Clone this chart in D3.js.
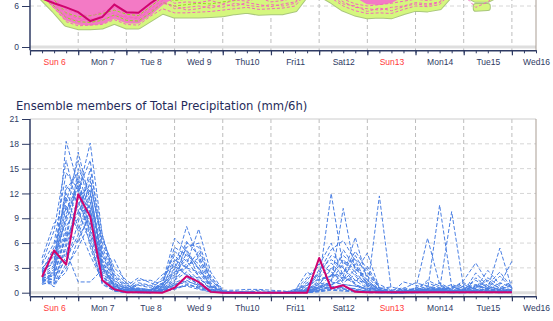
<!DOCTYPE html>
<html>
<head>
<meta charset="utf-8">
<title>Ensemble members of Total Precipitation</title>
<script src="https://d3js.org/d3.v7.min.js"></script>
<style>
    body { margin: 0; background: #fff; }
    svg { display: block; font-family: 'DejaVu Sans', sans-serif; }
    .tick text { fill: #2e3a63; font-size: 8.5px; }
</style>
</head>
<body>
<svg id="chart" width="553" height="321"></svg>
<script>
// ---- data ---------------------------------------------------------------
var dayLabels = ['Sun 6', 'Mon 7', 'Tue 8', 'Wed 9', 'Thu10', 'Fri11', 'Sat12', 'Sun13', 'Mon14', 'Tue15', 'Wed16'];
var sundays = ['Sun 6', 'Sun13'];
var firstHour = 6;     // first value is Sun 6 06:00
var stepHours = 6;
var precipTicks = [0, 3, 6, 9, 12, 15, 18, 21];
var plumeTicks = [0, 6];

// control run, total precipitation mm/6h
var control = [1.9, 5.1, 3.4, 11.9, 9.2, 1.5, 0.4, 0.05, 0.05, 0.02, 0, 0.6, 2.0, 1.3, 0.1,
    0, 0, 0, 0, 0, 0, 0, 0, 4.2, 0.5, 0.9, 0.1,
    0.05, 0.05, 0.05, 0.05, 0.05, 0.05, 0.05, 0.05, 0.05, 0.05, 0.05, 0.05, 0.05];

// ensemble members, total precipitation mm/6h
var members = [
    [2.0,3.1,6.5,9.8,12.5,3.2,0.8,0.3,0.2, 0.1,0.5,2.5,4.0,3.0,0.8,0.1, 0,0,0,0,0, 0,0.3,1.5,12.0,3.0,1.0,0.3,0.1,0, 0.1,0.2,0.5,0.3,0.2,0.5,1.0,0.5,0.3,0.2],
    [1.6,2.4,18.3,13.0,8.0,2.0,0.4,0.1,0, 0,0.2,1.0,1.5,0.8,0.2,0, 0,0,0,0,0, 0,0.1,0.5,1.2,10.2,2.5,0.8,0.2,0, 0,0.1,0.2,0.1,0,0.1,0.2,0.1,0,0.1],
    [2.5,4.0,9.0,17.0,11.0,4.5,1.2,0.4,0.3, 0.2,1.2,6.6,5.0,2.0,0.4,0, 0,0,0,0,0, 0.2,1.5,3.3,6.0,2.0,6.7,1.5,0.3,0.1, 0.2,0.4,6.6,1.0,0.3,0.2,0.6,1.5,0.5,0.8],
    [1.2,1.0,4.5,12.0,18.1,7.0,1.5,0.6,0.2, 0.3,0.8,3.0,8.0,4.0,1.0,0.1, 0,0,0,0,0, 0,0.2,0.8,0.5,1.0,0.8,0.3,11.7,0.2, 0.1,0.2,0.3,10.6,0.8,0.2,0.1,0.3,0.2,0.1],
    [3.0,4.4,12.5,14.5,9.5,1.8,0.3,0.1,0.1, 0,0.3,1.5,2.5,1.2,0.3,0, 0,0,0,0,0, 0.1,0.8,2.5,5.2,6.3,3.9,1.0,0.2,0, 0,0.1,0.2,0.4,9.8,0.6,0.3,0.2,0.1,0.2],
    [1.8,0.7,3.5,8.5,13.5,5.5,2.0,0.8,1.8, 1.2,0.6,2.0,3.5,7.7,2.5,0.3, 0.3,0.4,0.4,0.3,0.2, 0,0,0.3,0.8,0.5,0.3,0.1,0,0, 1.3,0.9,0.5,0.2,0.1,0.3,0.8,0.4,0.2,0.1],
    [2.2,2.0,7.5,6.0,10.0,3.5,0.6,0.2,0.5, 0.2,1.8,4.5,3.0,1.5,0.2,0, 0,0,0,0,0, 0.3,2.5,1.5,2.0,4.0,2.5,4.8,0.5,0.7, 0.3,0.2,1.5,0.8,0.4,1.5,3.6,1.2,0.6,1.3],
    [1.5,1.6,5.0,1.3,1.3,2.8,4.0,1.0,0.2, 0,0.4,1.2,6.0,5.5,1.5,0.2, 0,0,0,0,0, 0,0.4,1.0,3.0,1.5,4.5,2.0,0.3,0, 0,0,0.1,0.2,0.1,0,0.2,0.5,5.4,0.5],
    [4.2,8.4,10.0,13.0,6.5,1.0,0.2,0,0, 0,0.1,0.5,1.0,0.6,0.1,0, 0,0,0,0,0, 0,0.1,0.2,0.4,0.3,0.2,0,0,0, 0,0,0,0.1,0,0.1,0,0.1,0,0],
    [2.8,3.5,13.0,11.0,7.5,2.5,0.5,0.2,0.3, 0.4,0.9,3.5,2.0,1.0,0.3,0, 0,0,0,0,0, 0.2,1.0,2.0,1.5,5.2,3.0,1.2,0.4,0.1, 0.5,1.2,0.8,0.3,0.2,0.1,2.4,0.8,0.4,0.2],
    [1.0,1.4,6.0,15.0,12.0,3.8,1.0,0.5,1.5, 1.5,1.0,5.5,4.5,3.5,0.8,0.1, 0.1,0.2,0.1,0,0, 0,0.2,0.6,2.2,1.8,1.2,3.2,0.6,0.2, 0.1,0.3,0.4,0.6,0.3,0.8,0.5,2.7,1.0,3.8],
    [2.6,5.5,11.5,8.0,4.5,1.5,0.3,0.1,0, 0,0.2,0.8,2.0,1.8,0.4,0, 0,0,0,0,0, 0.1,0.5,1.2,0.8,2.5,3.5,0.8,0.1,0, 0,0.1,0.1,0.2,0.1,0,0.1,0.2,0.1,0],
    [1.9,2.8,8.0,10.5,14.0,6.0,2.5,1.2,0.4, 0.3,0.7,2.2,5.5,6.0,2.0,0.2, 0,0,0,0,0, 0,0.3,2.8,4.0,3.0,1.5,0.5,0.2,0, 0.2,0.5,1.2,0.6,0.2,0.4,1.5,0.6,2.0,0.5],
    [3.4,6.0,14.5,12.5,5.5,1.2,0.2,0,0.1, 0.1,0.3,1.0,1.2,0.5,0.1,0, 0,0,0,0,0, 0,0,0.2,0.5,0.8,0.4,0.2,0,0, 0,0,0.1,0.1,0,0,0.1,0,0.1,0],
    [1.3,1.8,4.0,7.0,11.0,4.0,0.9,0.3,0.9, 0.6,1.5,4.0,3.0,2.5,0.6,0.1, 0,0.1,0.3,0.1,0, 0.4,1.8,3.5,2.5,1.2,2.2,1.0,0.3,0.1, 0.4,0.3,0.2,0.4,0.6,1.2,0.5,1.8,0.8,0.3],
    [2.1,2.5,9.5,12.5,16.0,5.0,1.8,0.7,0.3, 0.2,0.4,1.8,4.8,3.0,0.9,0.1, 0,0,0,0,0, 0,0.2,0.5,1.5,3.5,4.0,2.5,0.5,0.2, 0,0.2,0.4,0.2,0.1,0.2,0.3,0.2,0.4,0.2],
    [1.7,1.2,3.0,5.5,8.5,3.0,0.7,0.3,0.1, 0,0.2,0.6,0.8,0.4,0.1,0, 0,0,0,0,0, 0,0.1,0.4,0.6,0.4,0.3,0.1,0,0, 0,0,0,0.1,0,0,0,0.1,0,0],
    [2.4,3.8,12.0,9.5,10.5,2.2,0.5,0.4,1.0, 0.8,2.2,3.2,2.2,1.2,0.2,0, 0,0,0,0,0, 0.1,0.6,1.8,3.6,2.0,1.0,0.4,0.2,0, 0.1,0.6,0.3,0.2,0.8,0.3,0.9,0.4,0.3,1.0],
    [1.4,2.2,7.0,13.5,9.0,2.8,0.6,0.2,0.6, 0.3,0.6,2.8,6.2,4.5,1.2,0.1, 0.2,0.1,0,0.1,0.2, 0,0.3,0.8,1.0,1.5,2.8,2.0,1.0,0.3, 0.6,0.3,0.5,1.2,0.4,0.2,0.6,1.0,2.5,0.6],
    [3.6,7.5,16.0,10.0,6.0,1.4,0.3,0.1,0, 0,0.1,0.4,0.9,0.7,0.2,0, 0,0,0,0,0, 0,0,0.1,0.3,0.2,0.1,0,0,0, 0,0,0.1,0,0,0,0.1,0,0,0.1],
    [2.0,1.5,5.5,11.5,13.0,6.5,3.0,1.5,0.5, 0.4,1.1,5.0,3.8,2.0,0.5,0, 0,0,0,0,0, 0.2,1.2,2.2,4.5,3.8,2.0,0.6,0.2,0.1, 0.2,0.4,0.2,0.3,0.5,1.0,0.4,0.3,0.2,0.4],
    [1.1,2.6,10.5,7.5,12.0,4.8,1.4,0.5,0.2, 0.1,0.5,1.5,3.2,4.2,1.8,0.2, 0,0,0,0,0, 0,0.2,0.6,0.9,1.8,1.5,1.2,0.4,0, 0,0.1,0.3,0.5,0.2,0.1,0.3,0.8,0.3,0.2],
    [2.9,4.8,8.5,14.0,7.0,2.0,0.4,0.2,1.2, 0.9,0.3,1.2,1.8,1.0,0.3,0, 0,0,0,0,0, 0.1,0.4,1.0,2.8,4.5,3.2,1.5,0.3,0, 0.3,0.2,0.6,0.4,1.0,0.5,0.2,0.4,1.2,0.6],
    [1.6,1.1,2.5,6.5,9.5,3.4,0.8,0.3,0.2, 0.2,0.8,3.8,5.2,2.8,0.7,0.1, 0,0,0,0,0, 0,0.1,0.3,0.7,0.6,0.5,0.2,0.1,0, 0,0.1,0,0.1,0.1,0.2,0.1,0,0.1,0.1],
    [2.3,3.3,11.0,16.0,10.0,3.0,1.0,0.6,0.4, 0.1,0.3,0.9,1.4,0.9,0.2,0, 0,0,0,0,0, 0.3,0.9,1.6,2.0,2.4,5.0,2.8,0.6,0.2, 0.1,0.3,0.8,0.5,0.3,0.2,1.8,0.6,0.5,0.3],
    [1.8,2.0,6.8,9.0,15.0,7.0,2.2,0.9,0.3, 0.3,1.0,2.5,3.0,5.0,1.6,0.2, 0,0,0,0,0, 0,0.3,0.7,1.3,1.0,0.8,0.5,0.2,0.1, 0.2,0.1,0.2,0.3,0.2,0.4,0.2,0.5,0.3,0.2]
];

// upper chart (cut off at the top of the picture): lower edge of the member spread
var plumeLow = [7.2, 5.4, 3.4, 2.9, 2.9, 3.0, 3.7, 3.0, 3.0, 4.1, 5.2, 4.6, 4.6, 4.6, 4.7, 4.8, 5.1, 5.3, 5.0, 5.1,
    5.1, 5.5, 7.8, 7.8, 6.8, 5.6, 4.9, 4.5, 4.6, 4.5, 5.1, 5.6, 5.5, 5.8, 7.8, 7.8, 6.9, 6.9, 7.8, 7.8];
// small separate patch under Tue15
var plumeIsleLow = [null, null, null, null, null, null, null, null, null, null, null, null, null, null, null, null, null, null, null, null,
    null, null, null, null, null, null, null, null, null, null, null, null, null, null, null, null, 5.6, 5.7, null, null];
var plumeIsleHigh = [null, null, null, null, null, null, null, null, null, null, null, null, null, null, null, null, null, null, null, null,
    null, null, null, null, null, null, null, null, null, null, null, null, null, null, null, null, 6.0, 6.0, null, null];
// lower edge of the dense (pink) core
var plumeCore = [7.6, 5.9, 4.0, 3.4, 3.3, 3.5, 4.3, 3.6, 3.6, 4.8, 6.3, 7.4, null, null, null, null, null, null, null, null,
    null, null, null, null, null, null, 7.4, 6.4, 6.3, 6.6, 7.5, null, null, null, null, null, null, null, null, null];
var plumeControl = [7.1, 6.4, 5.8, 5.1, 3.8, 4.4, 6.2, 5.1, 5.0, 6.4, 7.6, null, null, null, null, null, null, null, null, null,
    null, null, null, null, null, null, null, null, null, null, null, null, null, null, null, null, null, null, null, null];
var plumePink = [
    [7.5, 5.7, 3.7, 3.1, 3.2, 3.3, 4.0, 3.3, 3.2, 4.5, 5.6, 5.0, 5.0, 5.1, 5.2, 5.4, 5.6, 5.8, 5.5, 5.6, 5.7, 6.0, 8.0, 8.0, 7.2, 6.0, 5.3, 4.9, 5.0, 4.9, 5.5, 6.0, 5.9, 6.2, 8.0, 8.0, 7.2, 7.1, 8.0, 8.0],
    [8.0, 6.5, 4.8, 4.2, 3.9, 4.6, 5.0, 4.2, 4.4, 5.6, 6.8, 5.6, 5.8, 6.0, 5.7, 6.2, 6.0, 6.5, 6.2, 5.9, 6.3, 6.6, 8.5, 8.5, 7.8, 6.6, 5.8, 5.6, 5.4, 5.8, 6.0, 6.5, 6.3, 6.6, 8.5, 8.5, 8.0, 7.5, 8.5, 8.5],
    [8.5, 7.0, 5.5, 4.9, 4.5, 5.2, 5.8, 5.0, 5.0, 6.2, 7.5, 6.4, 6.6, 6.5, 6.8, 6.3, 6.9, 6.7, 7.2, 6.6, 6.8, 7.2, 9.0, 9.0, 8.0, 7.0, 6.3, 6.0, 6.2, 6.4, 6.7, 7.0, 6.8, 7.1, 9.0, 9.0, 8.5, 8.0, 9.0, 9.0],
    [8.2, 6.2, 4.4, 3.8, 4.2, 4.0, 4.6, 4.5, 4.1, 5.3, 6.4, 6.0, 5.4, 5.6, 6.1, 5.8, 6.4, 6.1, 5.9, 6.2, 6.0, 6.4, 8.2, 8.2, 7.5, 6.3, 6.0, 5.2, 5.7, 5.3, 5.9, 6.3, 6.1, 6.5, 8.0, 7.6, 5.8, 6.6, 8.0, 8.0]
];
var plumeGreen = [
    [7.6, 6.0, 4.3, 3.7, 3.6, 3.9, 4.7, 3.9, 3.8, 5.0, 6.5, 6.0, 6.2, 6.4, 6.3, 6.6, 6.8, 7.6, null, null,
        null, null, null, null, null, null, null, null, null, null, null, null, null, null, null, null, null, null, null, null],
    [8.0, 6.9, 5.0, 4.4, 4.6, 4.9, 5.4, 4.8, 4.6, 5.9, 7.3, 6.8, 7.0, 7.6, null, null, null, null, null, null,
        null, null, null, null, null, null, null, null, null, null, null, null, null, null, null, null, null, null, null, null]
];

// ---- drawing ------------------------------------------------------------
var navy = '#2e3a63';
var svg = d3.select('#chart');
var hourOf = function(i) { return firstHour + i * stepHours; };

var x = d3.scaleLinear().domain([0, 252]).range([30, 536]);
var left = x.range()[0], right = x.range()[1];

function timeAxis(g, y0) {
    g.append('g')
        .attr('transform', 'translate(0,' + y0 + ')')
        .call(d3.axisBottom(x).tickValues(d3.range(0, 253, stepHours)).tickSize(3).tickSizeOuter(0).tickFormat(''))
        .call(function(a) { a.select('.domain').attr('stroke', navy).attr('stroke-width', 1.5); })
        .selectAll('line').attr('stroke', navy);
    g.append('g')
        .attr('transform', 'translate(0,' + y0 + ')')
        .call(d3.axisBottom(x).tickValues(d3.range(0, 253, 24)).tickSize(5).tickSizeOuter(0).tickFormat(''))
        .call(function(a) { a.select('.domain').remove(); })
        .selectAll('line').attr('stroke', navy).attr('stroke-width', 1.2);
    g.append('g')
        .attr('transform', 'translate(0,' + y0 + ')')
        .call(d3.axisBottom(x).tickValues(dayLabels.map(function(d, i) { return 12 + 24 * i; }))
            .tickSize(0).tickPadding(9).tickFormat(function(d, i) { return dayLabels[i]; }))
        .call(function(a) { a.select('.domain').remove(); })
        .selectAll('text')
        .style('fill', function(d, i) { return sundays.indexOf(dayLabels[i]) >= 0 ? '#ff3838' : navy; });
}

function frame(g, y, top, bottom, hTicks) {
    // dashed grid
    g.append('g').selectAll('line')
        .data(hTicks.filter(function(t) { return t > 0 && y(t) > top + 1; }))
        .join('line')
        .attr('x1', left).attr('x2', right)
        .attr('y1', function(d) { return y(d); }).attr('y2', function(d) { return y(d); })
        .attr('stroke', '#d6d6d6').attr('stroke-dasharray', '4,3');
    g.append('g').selectAll('line')
        .data(d3.range(24, 252, 24))
        .join('line')
        .attr('x1', function(d) { return x(d); }).attr('x2', function(d) { return x(d); })
        .attr('y1', top).attr('y2', bottom)
        .attr('stroke', '#bdbdbd').attr('stroke-dasharray', '4,3');
    // zero line
    g.append('line')
        .attr('x1', left).attr('x2', right).attr('y1', y(0)).attr('y2', y(0))
        .attr('stroke', '#dedede').attr('stroke-width', 3);
}

function borders(g, y, top, bottom, hTicks) {
    g.append('line').attr('x1', left).attr('x2', right).attr('y1', top).attr('y2', top).attr('stroke', '#cccccc');
    g.append('line').attr('x1', right).attr('x2', right).attr('y1', top).attr('y2', bottom).attr('stroke', '#a99d93');
    g.append('g')
        .attr('transform', 'translate(' + left + ',0)')
        .call(d3.axisLeft(y).tickValues(hTicks).tickSize(8).tickPadding(3).tickFormat(d3.format('d')))
        .call(function(a) { a.select('.domain').remove(); })
        .selectAll('line').attr('stroke', navy);
    g.append('line').attr('x1', left).attr('x2', left).attr('y1', top).attr('y2', bottom)
        .attr('stroke', navy).attr('stroke-width', 1.5);
}

// ---- upper chart (plume, only its bottom is in view) --------------------
var topAxisY = 50.3;
var yT = d3.scaleLinear().domain([0, 6]).range([47, 6]);
var gT = svg.append('g');
svg.append('clipPath').attr('id', 'clipT').append('rect')
    .attr('x', left).attr('y', -100).attr('width', right - left).attr('height', topAxisY + 100);
frame(gT, yT, -10, topAxisY, plumeTicks);

var plotT = gT.append('g').attr('clip-path', 'url(#clipT)');
var areaLow = d3.area()
    .defined(function(d) { return d != null; })
    .x(function(d, i) { return x(hourOf(i)); })
    .y0(function(d) { return yT(d); })
    .y1(function() { return -60; });
plotT.append('path').datum(plumeLow).attr('d', areaLow)
    .attr('fill', '#d5f77f').attr('stroke', '#a9c67c').attr('stroke-width', 6).attr('stroke-linejoin', 'round');
plotT.append('path').datum(plumeLow).attr('d', areaLow)
    .attr('fill', '#d5f77f').attr('stroke', '#d5f77f').attr('stroke-width', 4).attr('stroke-linejoin', 'round');

var isle = plumeIsleLow.map(function(d, i) { return d == null ? null : [d, plumeIsleHigh[i]]; });
var areaIsle = d3.area()
    .defined(function(d) { return d != null; })
    .x(function(d, i) { return x(hourOf(i)); })
    .y0(function(d) { return yT(d[0]); })
    .y1(function(d) { return yT(d[1]); });
plotT.append('path').datum(isle).attr('d', areaIsle)
    .attr('fill', '#d5f77f').attr('stroke', '#a9c67c').attr('stroke-width', 6).attr('stroke-linejoin', 'round');
plotT.append('path').datum(isle).attr('d', areaIsle)
    .attr('fill', '#d5f77f').attr('stroke', '#d5f77f').attr('stroke-width', 4).attr('stroke-linejoin', 'round');

plotT.append('path').datum(plumeCore).attr('d', areaLow)
    .attr('fill', '#f37ac5').attr('stroke', '#f37ac5').attr('stroke-width', 2).attr('stroke-linejoin', 'round');

var lineT = d3.line()
    .defined(function(d) { return d != null; })
    .x(function(d, i) { return x(hourOf(i)); })
    .y(function(d) { return yT(d); });
plotT.append('g').selectAll('path').data(plumeGreen).join('path')
    .attr('d', lineT).attr('fill', 'none').attr('stroke', '#93d81c').attr('stroke-width', 1).attr('stroke-dasharray', '3,2');
plotT.append('g').selectAll('path').data(plumePink).join('path')
    .attr('d', lineT).attr('fill', 'none').attr('stroke', '#f266bb').attr('stroke-width', 1).attr('stroke-dasharray', '3,2');
plotT.append('path').datum(plumeControl).attr('d', lineT)
    .attr('fill', 'none').attr('stroke', '#d0046f').attr('stroke-width', 2);

borders(gT, yT, -10, topAxisY, plumeTicks);
timeAxis(gT, topAxisY);

// ---- lower chart: precipitation members ---------------------------------
var plotTop = 119, axisY = 296.3;
var yB = d3.scaleLinear().domain([0, 21]).range([292.7, plotTop]);
var gB = svg.append('g');

gB.append('text')
    .attr('x', 16).attr('y', 110)
    .attr('fill', '#1f2b5a').attr('font-size', '11.6px')
    .text('Ensemble members of Total Precipitation (mm/6h)');

svg.append('clipPath').attr('id', 'clipB').append('rect')
    .attr('x', left).attr('y', plotTop).attr('width', right - left).attr('height', axisY - plotTop);
frame(gB, yB, plotTop, axisY, precipTicks);

var lineB = d3.line()
    .x(function(d, i) { return x(hourOf(i)); })
    .y(function(d) { return yB(d); });
var plotB = gB.append('g').attr('clip-path', 'url(#clipB)');
plotB.append('g').selectAll('path').data(members).join('path')
    .attr('d', lineB).attr('fill', 'none')
    .attr('stroke', '#4a7fe3').attr('stroke-width', 1).attr('stroke-dasharray', '4,2');
plotB.append('path').datum(control).attr('d', lineB)
    .attr('fill', 'none').attr('stroke', '#d0046f').attr('stroke-width', 2).attr('stroke-linejoin', 'round');

borders(gB, yB, plotTop, axisY, precipTicks);
timeAxis(gB, axisY);
</script>
</body>
</html>
